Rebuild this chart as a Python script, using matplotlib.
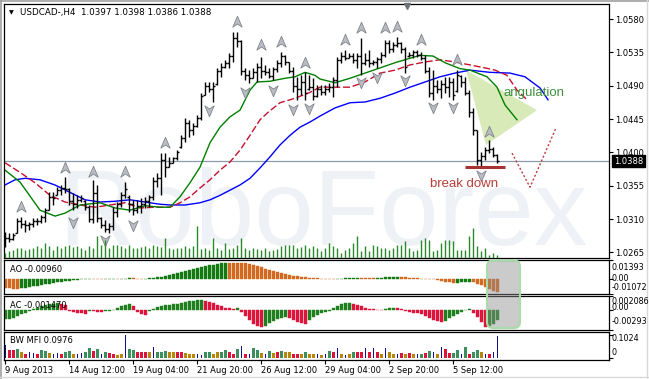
import numpy as np
import matplotlib
matplotlib.use("Agg")
import matplotlib.pyplot as plt
import matplotlib.transforms as mtransforms
from matplotlib.path import Path
from matplotlib.patches import Polygon, FancyBboxPatch
from matplotlib.lines import Line2D

# ---- data (USDCAD H4) ----
highs = [1.0292, 1.0291, 1.0291, 1.0311, 1.0313, 1.0309, 1.0306, 1.0311, 1.0311, 1.0315,
         1.0325, 1.0347, 1.0347, 1.0353, 1.0356, 1.0367, 1.0352, 1.0345, 1.0342, 1.0342,
         1.0336, 1.0329, 1.0363, 1.0356, 1.0313, 1.0309, 1.0305, 1.0326, 1.0333, 1.0347,
         1.0360, 1.0342, 1.0336, 1.0336, 1.0338, 1.0340, 1.0342, 1.0367, 1.0372, 1.0399,
         1.0399, 1.0394, 1.0394, 1.0403, 1.0423, 1.0446, 1.0444, 1.0440, 1.0450, 1.0480,
         1.0495, 1.0495, 1.0495, 1.0514, 1.0521, 1.0525, 1.0534, 1.0562, 1.0562, 1.0552,
         1.0514, 1.0511, 1.0514, 1.0521, 1.0529, 1.0518, 1.0514, 1.0515, 1.0525, 1.0535,
         1.0531, 1.0522, 1.0515, 1.0502, 1.0504, 1.0508, 1.0504, 1.0500, 1.0491, 1.0491,
         1.0491, 1.0494, 1.0502, 1.0529, 1.0535, 1.0538, 1.0534, 1.0534, 1.0534, 1.0554,
         1.0534, 1.0538, 1.0525, 1.0529, 1.0535, 1.0552, 1.0552, 1.0549, 1.0556, 1.0549,
         1.0542, 1.0535, 1.0538, 1.0538, 1.0535, 1.0531, 1.0515, 1.0511, 1.0498, 1.0498,
         1.0502, 1.0502, 1.0500, 1.0511, 1.0504, 1.0502, 1.0484, 1.0460, 1.0430, 1.0400,
         1.0407, 1.0417, 1.0407, 1.0398]
lows = [1.0272, 1.0279, 1.0282, 1.0291, 1.0298, 1.0292, 1.0295, 1.0299, 1.0302, 1.0305,
        1.0306, 1.0322, 1.0329, 1.0342, 1.0342, 1.0345, 1.0329, 1.0322, 1.0325, 1.0333,
        1.0322, 1.0306, 1.0305, 1.0306, 1.0298, 1.0292, 1.0291, 1.0295, 1.0313, 1.0326,
        1.0338, 1.0320, 1.0315, 1.0318, 1.0318, 1.0325, 1.0326, 1.0336, 1.0353, 1.0342,
        1.0367, 1.0380, 1.0386, 1.0390, 1.0406, 1.0414, 1.0421, 1.0423, 1.0434, 1.0444,
        1.0477, 1.0481, 1.0468, 1.0491, 1.0502, 1.0514, 1.0514, 1.0522, 1.0542, 1.0504,
        1.0498, 1.0494, 1.0500, 1.0495, 1.0500, 1.0504, 1.0500, 1.0498, 1.0508, 1.0515,
        1.0518, 1.0507, 1.0481, 1.0471, 1.0477, 1.0471, 1.0484, 1.0471, 1.0475, 1.0477,
        1.0477, 1.0481, 1.0475, 1.0488, 1.0521, 1.0525, 1.0527, 1.0521, 1.0514, 1.0504,
        1.0518, 1.0515, 1.0518, 1.0514, 1.0521, 1.0529, 1.0534, 1.0535, 1.0542, 1.0534,
        1.0507, 1.0529, 1.0527, 1.0529, 1.0525, 1.0507, 1.0475, 1.0471, 1.0480, 1.0473,
        1.0480, 1.0475, 1.0471, 1.0481, 1.0488, 1.0477, 1.0448, 1.0423, 1.0383, 1.0379,
        1.0390, 1.0399, 1.0394, 1.0386]
opens = [1.0278, 1.0285, 1.0283, 1.0291, 1.0308, 1.0304, 1.0302, 1.0303, 1.0307, 1.0308,
         1.0313, 1.0322, 1.0340, 1.0343, 1.0349, 1.0352, 1.0350, 1.0335, 1.0330, 1.0336,
         1.0335, 1.0326, 1.0310, 1.0345, 1.0312, 1.0302, 1.0296, 1.0300, 1.0320, 1.0330,
         1.0343, 1.0340, 1.0330, 1.0322, 1.0328, 1.0330, 1.0335, 1.0340, 1.0362, 1.0365,
         1.0390, 1.0380, 1.0386, 1.0392, 1.0407, 1.0420, 1.0440, 1.0430, 1.0436, 1.0447,
         1.0478, 1.0490, 1.0486, 1.0492, 1.0510, 1.0515, 1.0520, 1.0530, 1.0555, 1.0550,
         1.0510, 1.0505, 1.0500, 1.0508, 1.0515, 1.0510, 1.0508, 1.0503, 1.0512, 1.0520,
         1.0530, 1.0522, 1.0510, 1.0490, 1.0485, 1.0495, 1.0486, 1.0488, 1.0476, 1.0485,
         1.0482, 1.0486, 1.0488, 1.0498, 1.0525, 1.0530, 1.0528, 1.0530, 1.0524, 1.0530,
         1.0520, 1.0525, 1.0520, 1.0522, 1.0526, 1.0532, 1.0548, 1.0540, 1.0545, 1.0548,
         1.0540, 1.0530, 1.0532, 1.0535, 1.0532, 1.0528, 1.0510, 1.0480, 1.0490, 1.0485,
         1.0492, 1.0488, 1.0495, 1.0483, 1.0503, 1.0495, 1.0480, 1.0455, 1.0430, 1.0390,
         1.0395, 1.0403, 1.0405, 1.0397]
closes = [1.0285, 1.0283, 1.0288, 1.0308, 1.0304, 1.0302, 1.0303, 1.0307, 1.0308, 1.0313,
          1.0322, 1.0340, 1.0338, 1.0349, 1.0352, 1.0350, 1.0335, 1.0330, 1.0336, 1.0338,
          1.0326, 1.0310, 1.0345, 1.0312, 1.0302, 1.0296, 1.0300, 1.0320, 1.0330, 1.0343,
          1.0350, 1.0330, 1.0322, 1.0328, 1.0330, 1.0335, 1.0340, 1.0362, 1.0365, 1.0390,
          1.0380, 1.0386, 1.0392, 1.0400, 1.0420, 1.0440, 1.0430, 1.0436, 1.0447, 1.0476,
          1.0490, 1.0486, 1.0490, 1.0510, 1.0515, 1.0520, 1.0530, 1.0555, 1.0550, 1.0510,
          1.0505, 1.0500, 1.0508, 1.0515, 1.0510, 1.0508, 1.0503, 1.0512, 1.0520, 1.0530,
          1.0522, 1.0510, 1.0490, 1.0485, 1.0495, 1.0480, 1.0488, 1.0476, 1.0485, 1.0482,
          1.0486, 1.0488, 1.0498, 1.0525, 1.0530, 1.0528, 1.0530, 1.0524, 1.0530, 1.0520,
          1.0525, 1.0520, 1.0522, 1.0526, 1.0532, 1.0548, 1.0540, 1.0545, 1.0548, 1.0540,
          1.0515, 1.0532, 1.0535, 1.0532, 1.0528, 1.0510, 1.0480, 1.0490, 1.0485, 1.0492,
          1.0488, 1.0495, 1.0478, 1.0505, 1.0495, 1.0480, 1.0455, 1.0430, 1.0390, 1.0395,
          1.0403, 1.0405, 1.0397, 1.0388]
volumes = [5, 7, 8, 10, 10, 8, 9, 10, 12, 10,
           15, 12, 8, 12, 10, 12, 13, 11, 12, 10,
           8, 12, 10, 22, 13, 18, 10, 13, 13, 12,
           10, 13, 10, 10, 11, 12, 10, 13, 12, 11,
           20, 10, 9, 10, 10, 12, 10, 12, 32, 9,
           10, 8, 20, 10, 8, 15, 9, 10, 13, 20,
           10, 8, 10, 9, 8, 10, 7, 8, 9, 12,
           13, 13, 13, 10, 11, 13, 10, 12, 10, 7,
           10, 15, 12, 10, 5, 8, 10, 15, 22, 7,
           12, 7, 13, 12, 10, 10, 8, 10, 13, 13,
           17, 10, 7, 8, 18, 20, 18, 7, 8, 15,
           18, 18, 17, 8, 8, 8, 22, 30, 12, 7,
           10, 3, 5, 3]

# alligator-style moving averages (bar index, price)
green_idx = [0, 3.75, 8.75, 12.5, 15, 18.75, 23.75, 27.5, 31.25, 35, 38.75, 41.25, 43.75, 46.25,
             48.75, 51.25, 53.75, 56.25, 58.75, 61.25, 63, 66.25, 70, 72.5, 75, 77.5, 78.75, 82.5,
             86.25, 90, 93.75, 97.5, 101.25, 103.75, 107, 110, 113.75, 116.25, 120.5, 123, 125, 128]
green_val = [1.0376, 1.0360, 1.0322, 1.0314, 1.0318, 1.0329, 1.0332, 1.0325, 1.0322, 1.0328,
             1.0326, 1.0326, 1.0340, 1.0359, 1.0380, 1.0413, 1.0434, 1.0448, 1.0457, 1.0484,
             1.0495, 1.0496, 1.0500, 1.0502, 1.0508, 1.0504, 1.0499, 1.0494, 1.0500, 1.0507,
             1.0514, 1.0521, 1.0527, 1.0531, 1.0530, 1.0521, 1.0513, 1.0511, 1.0502, 1.0488,
             1.0464, 1.0444]
red_idx = [0, 3.75, 7.5, 11.25, 15, 18.75, 22.5, 26.25, 30, 33.75, 37.5, 41.25, 43.75, 46.25,
           48.75, 51.25, 53.75, 56.25, 58.75, 61.25, 63.75, 65.75, 68.75, 72.5, 76.25, 78.75,
           82.5, 86.25, 90, 93.75, 97.5, 101.25, 105, 108.75, 112.5, 116.25, 120, 122.5, 125.5,
           128, 130.5]
red_val = [1.0386, 1.0373, 1.0359, 1.0342, 1.0333, 1.0329, 1.0326, 1.0329, 1.0332, 1.0325,
           1.0326, 1.0326, 1.0332, 1.0340, 1.0352, 1.0363, 1.0376, 1.0387, 1.0403, 1.0423,
           1.0444, 1.0454, 1.0467, 1.0473, 1.0481, 1.0488, 1.0488, 1.0488, 1.0495, 1.0507,
           1.0511, 1.0518, 1.0522, 1.0525, 1.0522, 1.0518, 1.0514, 1.0511, 1.0504, 1.0484,
           1.0471]
blue_idx = [0, 2.5, 5, 8.75, 12.5, 16.25, 20, 23.75, 27.5, 31.25, 35, 38.75, 41.25, 45, 48.75,
            51.25, 53.75, 56.25, 58.75, 61.25, 63.75, 66.25, 68.75, 71.25, 73.75, 76.25, 78.75,
            82.5, 86.25, 90, 93.75, 97.5, 101.25, 105, 108.75, 112.5, 116.25, 121.25, 126.25,
            130, 133.75, 135.75]
blue_val = [1.0356, 1.0363, 1.0365, 1.0363, 1.0356, 1.0346, 1.0336, 1.0333, 1.0334, 1.0336,
            1.0333, 1.0330, 1.0329, 1.0329, 1.0332, 1.0336, 1.0342, 1.0349, 1.0356, 1.0365,
            1.0379, 1.0394, 1.0410, 1.0423, 1.0434, 1.0441, 1.0449, 1.0460, 1.0467, 1.0468,
            1.0473, 1.0480, 1.0488, 1.0495, 1.0502, 1.0507, 1.0511, 1.0508, 1.0507, 1.0502,
            1.0487, 1.0471]

# fractal arrows (bar index, price where the arrow sits)
up_idx = [4, 15, 22, 30, 40, 58, 64, 69, 75, 85, 89, 95, 98, 104, 113, 121]
up_pos = [1.0326, 1.0379, 1.0373, 1.0373, 1.0413, 1.0576, 1.0545, 1.0549, 1.0521, 1.0552,
          1.0568, 1.0568, 1.0569, 1.0552, 1.0525, 1.0427]
down_idx = [17, 25, 32, 51, 60, 67, 72, 76, 89, 93, 100, 107, 112, 119]
down_pos = [1.0306, 1.0282, 1.0302, 1.0457, 1.0481, 1.0484, 1.0458, 1.0460, 1.0495, 1.0502,
            1.0498, 1.0461, 1.0461, 1.0369]

# oscillators (values in 1e-3)
ao = [-6.7, -7.0, -7.25, -7.4, -7.0, -6.5, -6.0, -5.6, -5.1, -4.4,
      -3.9, -3.5, -3.0, -2.5, -2.1, -1.7, -1.3, -0.9, -0.6, -0.4,
      -0.3, -0.2, -0.3, -0.35, -0.4, -0.35, -0.2, -0.15, -0.2, -0.07,
      0.14, 0.35, 0.2, 0.07, -0.07, 0.14, 0.35, 0.56, 0.9, 1.4,
      2.0, 2.5, 3.2, 3.9, 4.6, 5.35, 6.2, 7.0, 7.9, 8.6,
      9.3, 9.85, 10.3, 10.7, 11.1, 11.5, 11.45, 11.4, 11.3, 11.15,
      11.1, 10.6, 9.85, 9.0, 8.2, 7.25, 6.3, 5.5, 4.65, 3.9,
      3.2, 2.7, 2.1, 1.7, 1.3, 0.9, 0.56, 0.35, 0.2, 0.07,
      -0.14, -0.28, -0.35, -0.28, -0.07, 0.2, 0.42, 0.63, 0.77, 0.7,
      0.63, 0.56, 0.5, 0.56, 0.7, 0.9, 1.1, 1.27, 1.34, 1.13,
      0.9, 0.7, 0.5, 0.28, 0.14, 0.0, -0.2, -0.56, -1.05, -1.6,
      -2.1, -2.5, -2.95, -2.8, -2.7, -2.55, -2.45, -2.7, -3.5, -4.6,
      -6.0, -7.4, -8.65, -9.6]
ac = [-1.37, -1.29, -1.14, -0.91, -0.68, -0.46, -0.23, 0.08, 0.30, 0.53,
      0.68, 0.84, 0.91, 0.99, 0.91, 0.76, -0.15, -0.30, -0.46, -0.53,
      -0.61, -0.15, -0.23, -0.30, -0.38, -0.23, -0.15, -0.08, 0.30, 0.53,
      0.76, 0.84, 0.61, -0.30, -0.61, -0.76, -0.15, 0.15, 0.38, 0.53,
      0.68, 0.76, 0.84, 0.91, 0.99, 1.14, 1.29, 1.37, 1.44, 1.52,
      1.37, 1.22, 0.99, 0.76, 0.53, 0.30, 0.23, 0.15, 0.23, -0.30,
      -0.91, -1.52, -2.13, -2.43, -2.58, -2.36, -1.98, -1.60, -1.37, -1.14,
      -0.99, -1.14, -1.44, -1.75, -1.98, -2.05, -1.52, -1.06, -0.76, -0.53,
      -0.38, -0.15, 0.30, 0.61, 0.84, 0.99, 1.06, 0.91, 0.68, 0.61,
      0.30, 0.15, 0.08, 0.05, 0.03, 0.15, 0.23, 0.30, 0.23, 0.08,
      -0.23, -0.38, -0.46, -0.53, -0.68, -0.91, -1.22, -1.52, -1.67, -1.75,
      -1.67, -1.22, -0.91, -0.61, -0.38, -0.08, 0.08, -0.46, -1.06, -1.82,
      -2.58, -2.43, -2.13, -1.47]
mfi = [56, 34, 34, 39, 27, 19, 24, 22, 15, 34,
       31, 22, 18, 22, 19, 27, 31, 16, 18, 22,
       27, 44, 30, 37, 16, 27, 22, 15, 12, 15,
       102.4, 37, 34, 27, 27, 27, 24, 49, 27, 27,
       31, 27, 27, 27, 27, 22, 16, 16, 18, 12,
       24, 27, 19, 24, 27, 34, 24, 19, 37, 53,
       16, 18, 42, 34, 22, 16, 31, 22, 24, 31,
       27, 24, 19, 19, 15, 24, 19, 19, 16, 12,
       16, 30, 27, 44, 16, 12, 16, 27, 27, 27,
       42, 27, 42, 27, 15, 44, 27, 16, 16, 22,
       16, 22, 16, 19, 19, 22, 31, 27, 15, 49,
       39, 22, 22, 34, 15, 49, 19, 27, 34, 27,
       15, 19, 27, 97.6]
mfi_kind = list("brrgyrbbrg" "gybbrggybb" "ggrgbgrryy" "bggrrrybgg" "gyyrryyybb"
                "ggyyggrrgb" "rbggybgyrg" "yyrrygyyby" "bgrbybygrr" "brbrybyybr"
                "yrybgrgbyb" "rrggbgrggy" "brbb")

price_levels = [1.0580, 1.0535, 1.0490, 1.0445, 1.0400, 1.0355, 1.0310, 1.0265]
date_idx = [0, 16, 32, 48, 64, 80, 96, 112]
date_labels = ["9 Aug 2013", "14 Aug 12:00", "19 Aug 04:00", "21 Aug 20:00",
               "26 Aug 12:00", "29 Aug 04:00", "2 Sep 20:00", "5 Sep 12:00"]

# hand-drawn analysis marks
wedge_pts = [(115.25, 1.0511), (133, 1.0457), (120.25, 1.0410)]
breakdown_level = 1.0380
breakdown_span = (115, 125)
forecast_pts = [(126.75, 1.0399), (131.25, 1.0353), (137.75, 1.0433)]

# ---- layout ----
W, H = 649, 379
fig = plt.figure(figsize=(W / 100, H / 100), dpi=100, facecolor="white")


def px_box(l, t, r, b):
    return [l / W, 1 - b / H, (r - l) / W, (b - t) / H]


def ftext(x, y, s, **kw):
    fig.text(x / W, 1 - y / H, s, **kw)


XLIM = (-0.375, 150.875)
x = np.arange(len(closes))

ax = fig.add_axes(px_box(3.5, 3.5, 608.5, 257.5))
ax_vol = fig.add_axes(px_box(3.5, 3.5, 608.5, 257.5))
ax_ao = fig.add_axes(px_box(3.5, 259.5, 608.5, 293.5))
ax_ac = fig.add_axes(px_box(3.5, 296, 608.5, 329.5))
ax_mfi = fig.add_axes(px_box(3.5, 331.5, 608.5, 359.5))

for a in (ax, ax_ao, ax_ac, ax_mfi):
    a.set_xlim(*XLIM)
    for s in a.spines.values():
        s.set_linewidth(0.9)
        s.set_color("black")
    a.set_xticks([])

# main price panel
ax.set_ylim(1.05801 - 0.0321975, 1.0600925)
ax.yaxis.tick_right()
ax.set_yticks(price_levels)
ax.set_yticklabels([f"{v:.4f}" for v in price_levels])
ax.tick_params(axis="y", length=3, width=0.8, pad=1.5, labelsize=6)

ax.text(0.09, 0.049, "RoboForex", transform=ax.transAxes, fontsize=77,
        family="Liberation Sans", color="#eef1f5", va="baseline", ha="left", zorder=0)

ax.add_patch(Polygon(wedge_pts, closed=True, fc="#d9eab9", ec="none", zorder=1))
ax.axhline(closes[-1], color="#8c9bab", lw=0.9, zorder=1.5)

ax.plot(blue_idx, blue_val, color="#0000ff", lw=1.0, zorder=2)
ax.plot(red_idx, red_val, color="#c8102e", lw=1.0, dashes=(5, 2), zorder=2)
ax.plot(green_idx, green_val, color="#008000", lw=1.0, zorder=2)

ax.vlines(x, lows, highs, color="black", lw=1.0, zorder=3)
ax.hlines(opens, x - 0.45, x, color="black", lw=1.0, zorder=3)
ax.hlines(closes, x, x + 0.45, color="black", lw=1.0, zorder=3)

arrow_up = Path([(0, 1), (0.75, -0.75), (0, -0.25), (-0.75, -0.75), (0, 1)],
                [Path.MOVETO, Path.LINETO, Path.LINETO, Path.LINETO, Path.CLOSEPOLY])
arrow_down = Path([(0, -1), (0.75, 0.75), (0, 0.25), (-0.75, 0.75), (0, -1)],
                  [Path.MOVETO, Path.LINETO, Path.LINETO, Path.LINETO, Path.CLOSEPOLY])
ax.plot(up_idx, up_pos, ls="none", marker=arrow_up, ms=9, mfc="#b9bdc3", mec="#80858c",
        mew=0.6, zorder=4)
ax.plot(down_idx, down_pos, ls="none", marker=arrow_down, ms=9, mfc="#b9bdc3", mec="#80858c",
        mew=0.6, zorder=4)
top_tr = mtransforms.blended_transform_factory(ax.transData, ax.transAxes)
ax.plot([100.5], [0.99], marker="v", ms=5, color="#6e737a", transform=top_tr,
        clip_on=False, zorder=4)

ax.hlines(breakdown_level, *breakdown_span, color="#a83232", lw=2.2, zorder=5)
fx, fy = zip(*forecast_pts)
ax.plot(fx, fy, color="#c03c3c", lw=1.0, ls=(0, (1.5, 1.5)), zorder=5)
ax.text(124.5, 1.0480, "angulation", color="#3d8f3d", fontsize=9.5,
        family="Liberation Sans", va="center", ha="left", zorder=6)
ax.text(106.25, 1.0357, "break down", color="#b5403a", fontsize=9.5,
        family="Liberation Sans", va="center", ha="left", zorder=6)

price_tr = mtransforms.blended_transform_factory(ax.transAxes, ax.transData)
ax.text(1.0 + 5.5 / 605, closes[-1], f"{closes[-1]:.4f}", transform=price_tr, fontsize=6,
        color="white", va="center", ha="left", clip_on=False, zorder=10,
        bbox=dict(boxstyle="square,pad=0.2", fc="black", ec="black"))

# volumes overlay at the bottom of the price panel
ax_vol.set_xlim(*XLIM)
ax_vol.set_ylim(0, 254)
ax_vol.axis("off")
ax_vol.vlines(x, 0, volumes, color="#2a8a2a", lw=1.0)

# AO
ao_arr = np.array(ao)
ao_col = np.where(np.diff(ao_arr, prepend=ao_arr[0] + 1) >= 0, "#137a13", "#d2691e")
ax_ao.bar(x, ao_arr, width=0.75, color=ao_col, edgecolor=ao_col, lw=0.3)
ax_ao.set_ylim(-10.72, 13.93)
ax_ao.yaxis.tick_right()
ax_ao.set_yticks([13.93, 0, -10.72])
ax_ao.set_yticklabels([])
ax_ao.tick_params(axis="y", length=3, width=0.8)

# AC
ac_arr = np.array(ac)
ac_col = np.where(np.diff(ac_arr, prepend=ac_arr[0] - 1) >= 0, "#1f7f1f", "#dc143c")
ax_ac.bar(x, ac_arr, width=0.75, color=ac_col, edgecolor=ac_col, lw=0.3)
ax_ac.set_ylim(-2.93, 2.086)
ax_ac.yaxis.tick_right()
ax_ac.set_yticks([2.086, 0, -2.93])
ax_ac.set_yticklabels([])
ax_ac.tick_params(axis="y", length=3, width=0.8)

# BW MFI
mfi_colors = {"g": "#3a8f5c", "r": "#dc143c", "y": "#b8860b", "b": "#10108c"}
mfi_w = [0.25 if k == "b" else 0.75 for k in mfi_kind]
ax_mfi.bar(x, mfi, width=mfi_w, color=[mfi_colors[k] for k in mfi_kind])
ax_mfi.set_ylim(-7.6, 117)
ax_mfi.yaxis.tick_right()
ax_mfi.set_yticks([102.4, 0])
ax_mfi.set_yticklabels([])
ax_mfi.tick_params(axis="y", length=3, width=0.8)
ax_mfi.set_xticks(date_idx)
ax_mfi.set_xticklabels(date_labels, ha="left")
ax_mfi.tick_params(axis="x", length=3, width=0.8, pad=1.5, labelsize=6)

# texts
ftext(9, 12.5, "\u25bc", fontsize=4.5, va="center")
ftext(20, 12.5, "USDCAD-,H4  1.0397 1.0398 1.0386 1.0388", fontsize=6.3, va="center")
ftext(10, 269, "AO -0.00960", fontsize=6, va="center")
ftext(10, 306, "AC -0.001470", fontsize=6, va="center")
ftext(10, 340.5, "BW MFI 0.0976", fontsize=6, va="center")
for ypx, lab in [(267, "0.01393"), (278.5, "0.00"), (287.5, "-0.01072"),
                 (301.5, "0.002086"), (307, "0.00"), (322, "-0.00293"),
                 (338.5, "0.1024"), (352.5, "0")]:
    ftext(611.5, ypx, lab, fontsize=5.8, va="center")

# highlight box over the latest AO / AC bars
fig.add_artist(FancyBboxPatch((487, H - 328), 33, 67.5,
                              boxstyle="round,pad=0,rounding_size=6",
                              transform=mtransforms.IdentityTransform(),
                              fc=(0.55, 0.55, 0.55, 0.45), ec="#a8dca8", lw=1.5, zorder=20))

# window border
ident = mtransforms.IdentityTransform()
fig.add_artist(Line2D([0.5, 0.5], [0, H], transform=ident, color="#a0a0a0", lw=1.2))
fig.add_artist(Line2D([0, W], [H - 0.5, H - 0.5], transform=ident, color="#a0a0a0", lw=1.2))
fig.add_artist(Line2D([646.5, 646.5], [0, H], transform=ident, color="#d8d8d8", lw=1.0))
fig.add_artist(Line2D([0, W], [H - 376.5, H - 376.5], transform=ident, color="#d8d8d8", lw=1.0))

fig.savefig("out.png", dpi=100, facecolor="white")
